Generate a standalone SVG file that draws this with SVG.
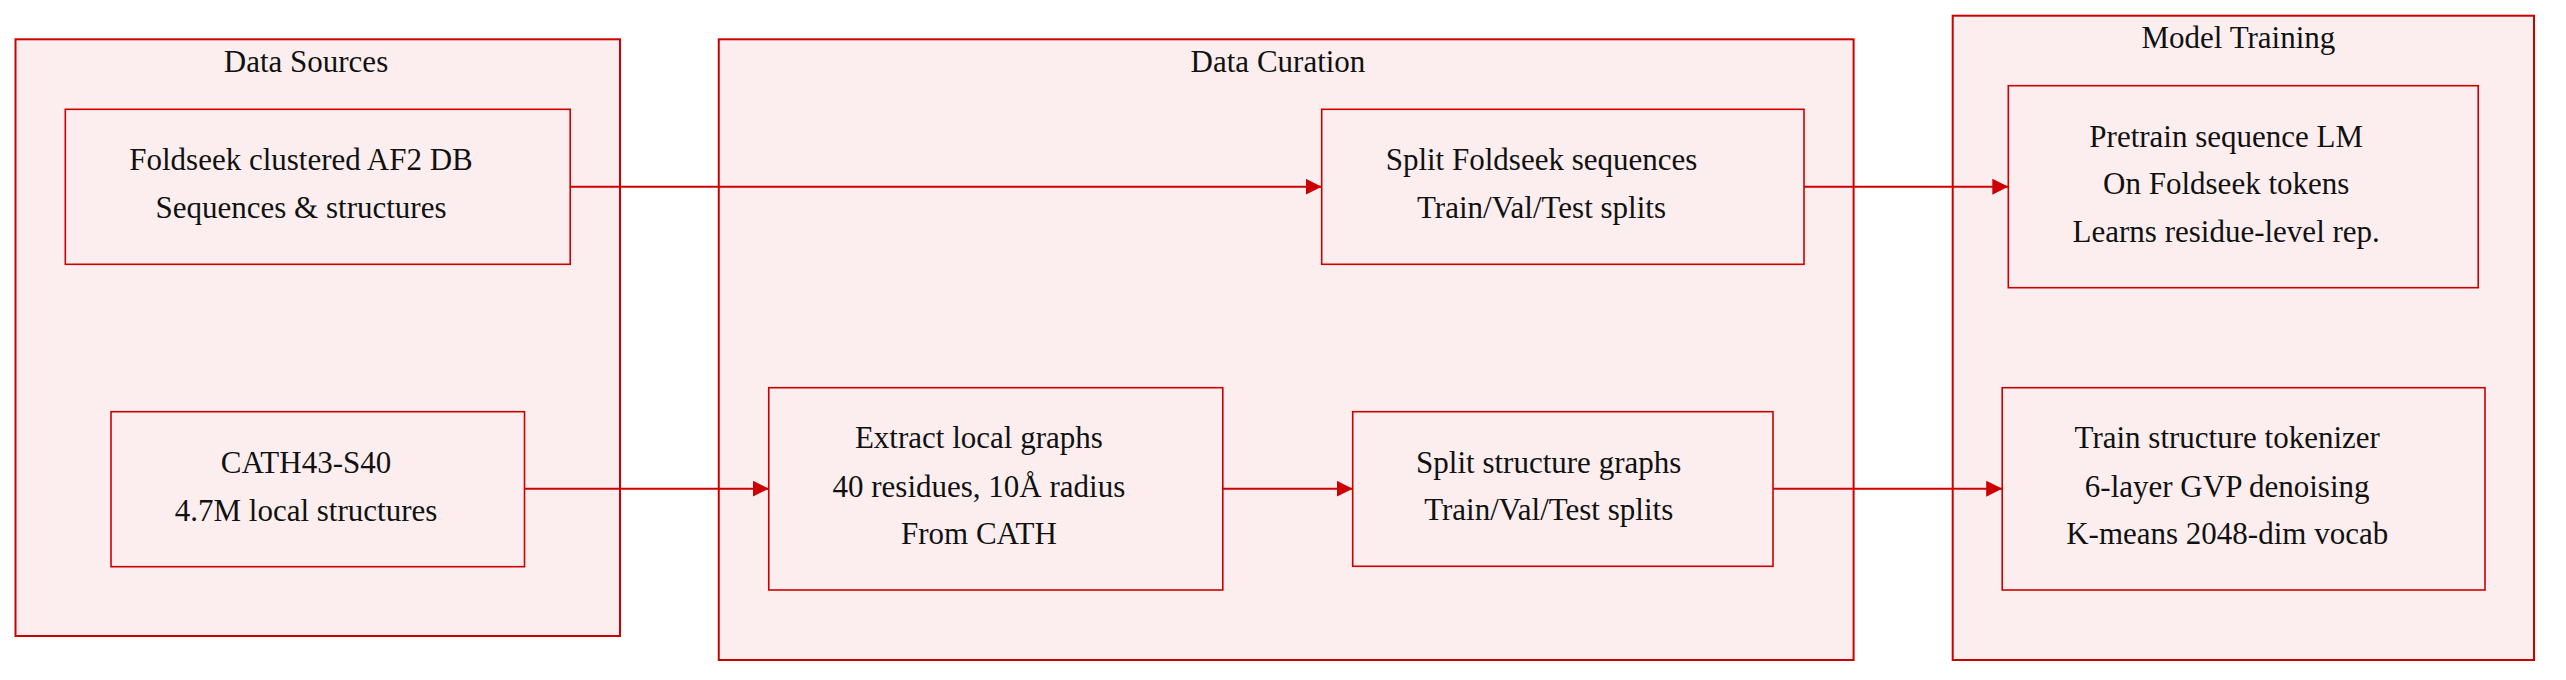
<svg xmlns="http://www.w3.org/2000/svg" width="2566" height="680" viewBox="0 0 2566 680">
<style>
.cl{fill:#fceeee;stroke:#cc0000;stroke-width:2}
.nd{fill:#fceeee;stroke:#cc0000;stroke-width:1.6}
text{font-family:"Liberation Serif","Times New Roman",serif;font-size:31px;fill:#111;text-anchor:middle}
.ed{stroke:#cc0000;stroke-width:2;fill:none}
</style>
<defs>
<marker id="ah" viewBox="0 0 16 16" refX="16" refY="8" markerWidth="16" markerHeight="16" markerUnits="userSpaceOnUse" orient="auto">
<path d="M0,0 L16,8 L0,16 Z" fill="#cc0000"/>
</marker>
</defs>
<rect width="2566" height="680" fill="#ffffff"/>
<g id="cluster-sources">
<rect class="cl" x="15.5" y="39.3" width="604.5" height="596.7"/>
<text x="306" y="71.7">Data Sources</text>
</g>
<g id="cluster-curation">
<rect class="cl" x="718.75" y="39.3" width="1134.85" height="620.7"/>
<text x="1278" y="71.7">Data Curation</text>
</g>
<g id="cluster-training">
<rect class="cl" x="1952.7" y="15.7" width="581.3" height="644.3"/>
<text x="2238.4" y="48.3">Model Training</text>
</g>
<g id="connectors">
<path class="ed" d="M570.2,186.7 L1321.7,186.7" marker-end="url(#ah)"/>
<path class="ed" d="M1804,186.7 L2008.3,186.7" marker-end="url(#ah)"/>
<path class="ed" d="M524.5,488.7 L768.75,488.7" marker-end="url(#ah)"/>
<path class="ed" d="M1222.8,488.7 L1352.7,488.7" marker-end="url(#ah)"/>
<path class="ed" d="M1773,488.7 L2002.2,488.7" marker-end="url(#ah)"/>
</g>
<g id="node-foldseek">
<rect class="nd" x="65.3" y="109.3" width="504.9" height="155"/>
<text x="301" y="170">Foldseek clustered AF2 DB</text>
<text x="301" y="218.3">Sequences &amp; structures</text>
</g>
<g id="node-cath">
<rect class="nd" x="111" y="411.7" width="413.5" height="155"/>
<text x="306" y="473.3">CATH43-S40</text>
<text x="306" y="520.7">4.7M local structures</text>
</g>
<g id="node-split-seq">
<rect class="nd" x="1321.7" y="109.3" width="482.3" height="155"/>
<text x="1541.5" y="170">Split Foldseek sequences</text>
<text x="1541.5" y="218.3">Train/Val/Test splits</text>
</g>
<g id="node-extract">
<rect class="nd" x="768.75" y="387.7" width="454.05" height="202.3"/>
<text x="978.9" y="448.3">Extract local graphs</text>
<text x="978.9" y="496.7">40 residues, 10Å radius</text>
<text x="978.9" y="544.3">From CATH</text>
</g>
<g id="node-split-struct">
<rect class="nd" x="1352.7" y="411.7" width="420.3" height="154.6"/>
<text x="1548.7" y="472.7">Split structure graphs</text>
<text x="1548.7" y="520">Train/Val/Test splits</text>
</g>
<g id="node-pretrain">
<rect class="nd" x="2008.3" y="85.7" width="469.9" height="202"/>
<text x="2226.2" y="146.7">Pretrain sequence LM</text>
<text x="2226.2" y="194.3">On Foldseek tokens</text>
<text x="2226.2" y="242.3">Learns residue-level rep.</text>
</g>
<g id="node-tokenizer">
<rect class="nd" x="2002.2" y="387.7" width="482.8" height="202.3"/>
<text x="2227.2" y="448.3">Train structure tokenizer</text>
<text x="2227.2" y="496.7">6-layer GVP denoising</text>
<text x="2227.2" y="544.3">K-means 2048-dim vocab</text>
</g>
</svg>
